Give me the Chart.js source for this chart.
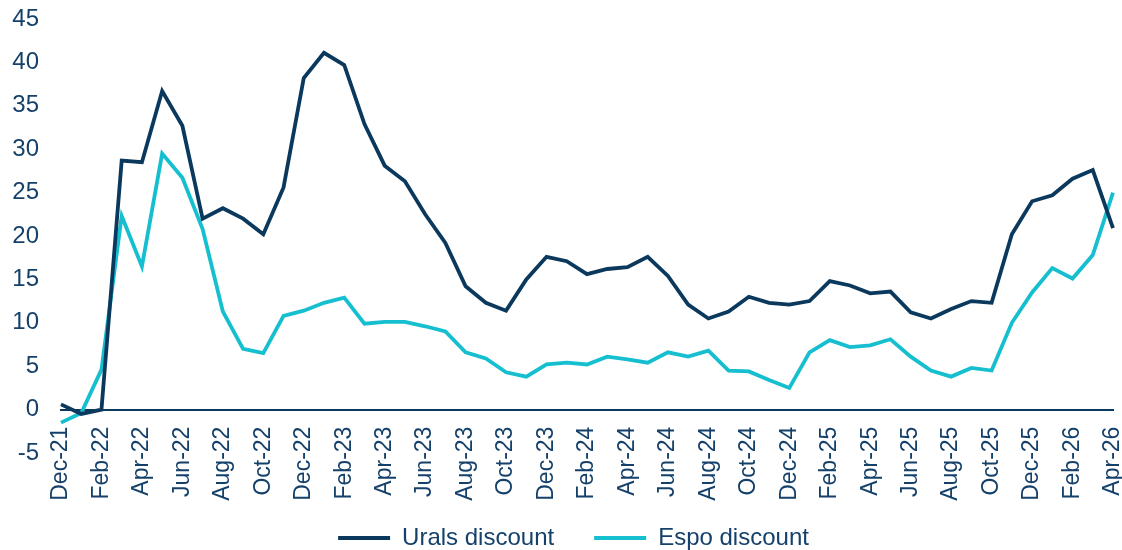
<!DOCTYPE html>
<html>
<head>
<meta charset="utf-8">
<script src="https://cdn.jsdelivr.net/npm/chart.js@4"></script>
<style>
  html, body { margin: 0; padding: 0; background: #fff; }
  #wrap { width: 1122px; height: 550px; }
</style>
</head>
<body>
<div id="wrap"><canvas id="discounts"></canvas></div>
<script>
// monthly, Dec-21 .. Apr-26
var months = ["Dec-21","Jan-22","Feb-22","Mar-22","Apr-22","May-22","Jun-22","Jul-22","Aug-22","Sep-22","Oct-22","Nov-22",
    "Dec-22","Jan-23","Feb-23","Mar-23","Apr-23","May-23","Jun-23","Jul-23","Aug-23","Sep-23","Oct-23","Nov-23",
    "Dec-23","Jan-24","Feb-24","Mar-24","Apr-24","May-24","Jun-24","Jul-24","Aug-24","Sep-24","Oct-24","Nov-24",
    "Dec-24","Jan-25","Feb-25","Mar-25","Apr-25","May-25","Jun-25","Jul-25","Aug-25","Sep-25","Oct-25","Nov-25",
    "Dec-25","Jan-26","Feb-26","Mar-26","Apr-26"];

var urals = [0.6, -0.5, 0, 28.7, 28.5, 36.7, 32.7, 22.0, 23.2, 22.0, 20.2, 25.6,
    38.2, 41.1, 39.7, 32.9, 28.1, 26.3, 22.5, 19.2, 14.2, 12.3, 11.4, 15.0,
    17.6, 17.1, 15.6, 16.2, 16.4, 17.6, 15.4, 12.1, 10.5, 11.3, 13.0, 12.3,
    12.1, 12.5, 14.8, 14.3, 13.4, 13.6, 11.2, 10.5, 11.6, 12.5, 12.3, 20.2,
    24.0, 24.7, 26.6, 27.6, 20.9];

var espo = [-1.5, -0.4, 4.6, 22.3, 16.5, 29.5, 26.7, 20.8, 11.3, 7.0, 6.5, 10.8,
    11.4, 12.3, 12.9, 9.9, 10.1, 10.1, 9.6, 9.0, 6.6, 5.9, 4.3, 3.8,
    5.2, 5.4, 5.2, 6.1, 5.8, 5.4, 6.6, 6.1, 6.8, 4.5, 4.4, 3.4,
    2.5, 6.6, 8.0, 7.2, 7.4, 8.1, 6.1, 4.5, 3.8, 4.8, 4.5, 10.0,
    13.5, 16.3, 15.1, 17.8, 25.0];

var yTicks = [-5, 0, 5, 10, 15, 20, 25, 30, 35, 40, 45];

var NAVY = "#0b395d";
var CYAN = "#16bfcf";
var TEXT = "#14406a";

Chart.defaults.font.family = "'Liberation Sans', Arial, sans-serif";
Chart.defaults.color = TEXT;

var lineData = {
    labels: months,
    datasets: [
        {
            label: "Urals discount",
            data: urals,
            borderColor: NAVY,
            backgroundColor: NAVY,
            borderWidth: 3.8,
            pointRadius: 0,
            tension: 0
        },
        {
            label: "Espo discount",
            data: espo,
            borderColor: CYAN,
            backgroundColor: CYAN,
            borderWidth: 3.8,
            pointRadius: 0,
            tension: 0
        }
    ]
};

var lineOptions = {
    responsive: true,
    maintainAspectRatio: false,
    animation: false,
    layout: {
        padding: { left: 12, right: -13, top: 19, bottom: -10 }
    },
    plugins: {
        legend: {
            position: "bottom",
            // empty title only opens the gap under the month labels
            title: {
                display: true,
                text: "",
                font: { size: 10 },
                padding: { top: 21, bottom: 0 }
            },
            labels: {
                usePointStyle: true,
                pointStyle: "line",
                pointStyleWidth: 52,
                padding: 40,
                color: TEXT,
                font: { size: 24 }
            }
        },
        tooltip: { enabled: false }
    },
    scales: {
        x: {
            // axis sits on the zero line, labels hang below it
            position: { y: 0 },
            grid: { display: false, drawTicks: false },
            border: { display: true, color: NAVY, width: 2 },
            ticks: {
                autoSkip: false,
                minRotation: 90,
                maxRotation: 90,
                padding: 17,
                color: TEXT,
                font: { size: 23 },
                callback: function (val, i) {
                    return i % 2 === 0 ? this.getLabelForValue(val) : "";
                }
            },
            afterFit: function (scale) {
                scale.paddingLeft = 0;
                scale.paddingRight = 0;
            }
        },
        y: {
            min: yTicks[0],
            max: yTicks[yTicks.length - 1],
            border: { display: false },
            grid: { display: false, drawTicks: false },
            afterBuildTicks: function (scale) {
                scale.ticks = yTicks.map(function (v) { return { value: v }; });
            },
            ticks: {
                padding: 22,
                color: TEXT,
                font: { size: 24 }
            },
            afterFit: function (scale) {
                scale.width = 49;
                scale.paddingTop = 0;
                scale.paddingBottom = 0;
            }
        },
        // blank strip on the right so the plot stops short of the legend's edge
        yEdge: {
            position: "right",
            min: yTicks[0],
            max: yTicks[yTicks.length - 1],
            border: { display: false },
            grid: { display: false, drawTicks: false },
            ticks: { display: false },
            afterFit: function (scale) {
                scale.width = 22;
                scale.paddingTop = 0;
                scale.paddingBottom = 0;
            }
        }
    }
};

var ctx = document.getElementById("discounts").getContext("2d");
new Chart(ctx, { type: "line", data: lineData, options: lineOptions });
</script>
</body>
</html>
